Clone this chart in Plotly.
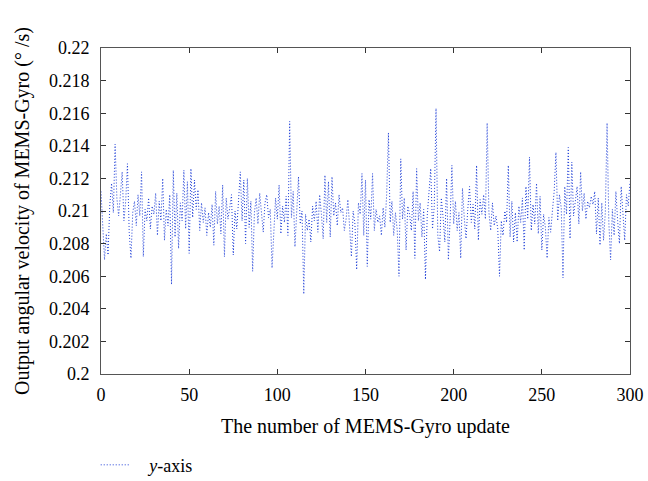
import plotly.graph_objects as go

# Output angular velocity (deg/s), one value per update 0..300
y_values = [
    0.2112, 0.2093, 0.2070, 0.2086, 0.2073, 0.2104, 0.2117, 0.2099, 0.2141, 0.2108,
    0.2097, 0.2110, 0.2124, 0.2094, 0.2106, 0.2129, 0.2087, 0.2071, 0.2099, 0.2106,
    0.2091, 0.2110, 0.2097, 0.2124, 0.2072, 0.2101, 0.2094, 0.2108, 0.2089, 0.2103,
    0.2098, 0.2111, 0.2085, 0.2106, 0.2094, 0.2120, 0.2082, 0.2101, 0.2091, 0.2110,
    0.2055, 0.2125, 0.2084, 0.2111, 0.2077, 0.2105, 0.2094, 0.2125, 0.2089, 0.2118,
    0.2074, 0.2126, 0.2096, 0.2119, 0.2101, 0.2113, 0.2088, 0.2105, 0.2093, 0.2102,
    0.2085, 0.2099, 0.2090, 0.2104, 0.2079, 0.2112, 0.2092, 0.2103, 0.2086, 0.2116,
    0.2072, 0.2108, 0.2095, 0.2102, 0.2110, 0.2073, 0.2100, 0.2089, 0.2111, 0.2124,
    0.2094, 0.2119, 0.2080, 0.2120, 0.2090, 0.2106, 0.2063, 0.2099, 0.2108, 0.2092,
    0.2111, 0.2098, 0.2087, 0.2105, 0.2110, 0.2096, 0.2101, 0.2065, 0.2090, 0.2108,
    0.2095, 0.2116, 0.2086, 0.2103, 0.2093, 0.2109, 0.2085, 0.2155, 0.2096, 0.2112,
    0.2078, 0.2104, 0.2121, 0.2092, 0.2100, 0.2049, 0.2098, 0.2088, 0.2095, 0.2081,
    0.2103, 0.2094, 0.2106, 0.2087, 0.2110, 0.2098, 0.2083, 0.2122, 0.2093, 0.2118,
    0.2084, 0.2121, 0.2097, 0.2105, 0.2091, 0.2110, 0.2099, 0.2102, 0.2088, 0.2095,
    0.2107, 0.2090, 0.2072, 0.2100, 0.2092, 0.2064, 0.2105, 0.2098, 0.2123, 0.2085,
    0.2119, 0.2066, 0.2107, 0.2095, 0.2123, 0.2088, 0.2101, 0.2093, 0.2097, 0.2085,
    0.2102, 0.2090, 0.2110, 0.2148, 0.2093, 0.2106, 0.2085, 0.2099, 0.2088, 0.2060,
    0.2132, 0.2095, 0.2108, 0.2076, 0.2103, 0.2098, 0.2088, 0.2112, 0.2071, 0.2126,
    0.2094, 0.2105, 0.2084, 0.2101, 0.2058, 0.2097, 0.2110, 0.2126, 0.2089, 0.2103,
    0.2163, 0.2085, 0.2075, 0.2108, 0.2096, 0.2081, 0.2120, 0.2070, 0.2095, 0.2128,
    0.2092, 0.2106, 0.2088, 0.2099, 0.2071, 0.2114, 0.2096, 0.2083, 0.2101, 0.2115,
    0.2093, 0.2104, 0.2089, 0.2128, 0.2082, 0.2107, 0.2098, 0.2110, 0.2095, 0.2154,
    0.2099, 0.2088, 0.2105, 0.2091, 0.2097, 0.2089, 0.2060, 0.2094, 0.2085, 0.2100,
    0.2093, 0.2128, 0.2084, 0.2106, 0.2081, 0.2099, 0.2081, 0.2103, 0.2093, 0.2108,
    0.2076, 0.2115, 0.2095, 0.2133, 0.2088, 0.2104, 0.2092, 0.2117, 0.2086, 0.2109,
    0.2076, 0.2098, 0.2090, 0.2071, 0.2096, 0.2087, 0.2100, 0.2112, 0.2136, 0.2094,
    0.2110, 0.2102, 0.2059, 0.2115, 0.2098, 0.2139, 0.2083, 0.2130, 0.2097, 0.2108,
    0.2115, 0.2092, 0.2124, 0.2100, 0.2111, 0.2095, 0.2106, 0.2102, 0.2109, 0.2104,
    0.2112, 0.2086, 0.2108, 0.2079, 0.2105, 0.2082, 0.2099, 0.2154, 0.2093, 0.2070,
    0.2101, 0.2085, 0.2112, 0.2094, 0.2080, 0.2115, 0.2098, 0.2082, 0.2110, 0.2103,
    0.2118,
]
x_values = list(range(len(y_values)))

x_tick_vals = [0, 50, 100, 150, 200, 250, 300]
x_tick_text = ["0", "50", "100", "150", "200", "250", "300"]
y_tick_vals = [0.2, 0.202, 0.204, 0.206, 0.208, 0.21, 0.212, 0.214, 0.216, 0.218, 0.22]
y_tick_text = ["0.2", "0.202", "0.204", "0.206", "0.208", "0.21", "0.212", "0.214", "0.216", "0.218", "0.22"]

series_name = "\u00a0\u00a0\u00a0<i>y</i>-axis"
x_title = "The number of MEMS-Gyro update"
y_title = "Output angular velocity of MEMS-Gyro (° /s)"

FONT = "Liberation Serif"

fig = go.Figure()
fig.add_trace(go.Scatter(
    x=x_values, y=y_values, mode="lines", name=series_name,
    line=dict(color="#1f3fd8", width=1, dash="1px,2px"),
))

axis_common = dict(
    showline=True, linecolor="#555555", linewidth=1, mirror="ticks",
    ticks="inside", ticklen=5, tickcolor="#333333", tickwidth=1,
    showgrid=False, zeroline=False, automargin=False,
    tickfont=dict(family=FONT, size=18, color="#000000"),
)

fig.update_xaxes(range=[0, 300], tickvals=x_tick_vals, ticktext=x_tick_text,
                 ticklabelstandoff=4, **axis_common)
fig.update_yaxes(range=[0.2, 0.22], tickvals=y_tick_vals, ticktext=y_tick_text,
                 ticklabelstandoff=7, **axis_common)

fig.add_annotation(text=x_title, xref="paper", yref="paper", x=0.5, y=0,
                   xanchor="center", yanchor="middle", yshift=-52, showarrow=False,
                   font=dict(family=FONT, size=20, color="#000000"))
fig.add_annotation(text=y_title, xref="paper", yref="paper", x=0, y=0.5,
                   xanchor="center", yanchor="middle", xshift=-79, textangle=-90,
                   showarrow=False, font=dict(family=FONT, size=20, color="#000000"))

fig.update_layout(
    width=648, height=481,
    margin=dict(l=101, r=18, t=48, b=107),
    paper_bgcolor="white", plot_bgcolor="white",
    showlegend=True,
    legend=dict(x=-0.01, y=0.033, xref="paper", yref="container",
                xanchor="left", yanchor="middle",
                font=dict(family=FONT, size=18, color="#000000"),
                bgcolor="rgba(0,0,0,0)", borderwidth=0),
)

fig.write_html("out.html", config={"displayModeBar": False},
               post_script="document.body.style.margin='0';")
